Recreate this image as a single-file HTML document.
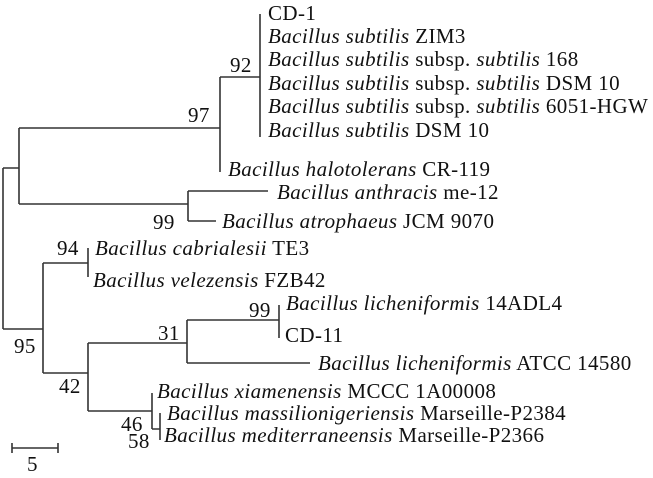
<!DOCTYPE html>
<html><head><meta charset="utf-8"><style>
html,body{margin:0;padding:0;background:#fff;width:653px;height:478px;overflow:hidden}
svg text{font-family:"Liberation Serif",serif;font-size:21px;letter-spacing:0.4px;fill:#111}
.i{font-style:italic}
</style></head><body>
<svg width="653" height="478" viewBox="0 0 653 478" xmlns="http://www.w3.org/2000/svg">
<g stroke="#333" stroke-width="1.6" fill="none">
<path d="M3,168 V329"/>
<path d="M3,168 H19 M19,128 V204"/>
<path d="M19,128 H220 M220,77 V172"/>
<path d="M220,77 H260 M260,14 V137"/>
<path d="M19,204 H188 M188,191 V221 M188,191 H268 M188,221 H216"/>
<path d="M3,329 H43 M43,263 V373"/>
<path d="M43,263 H88 M88,248 V277"/>
<path d="M43,373 H88 M88,343 V411"/>
<path d="M88,343 H187 M187,320 V363 M187,320 H279 M279,305 V338 M187,363 H310"/>
<path d="M88,411 H152 M152,393 V429 M152,429 H160 M160,413 V440"/>
<path d="M12,448 H58 M12,443 V453 M58,443 V453"/>
</g>
<text x="268" y="20">CD-1</text>
<text x="268" y="43"><tspan class="i">Bacillus subtilis</tspan> ZIM3</text>
<text x="268" y="66"><tspan class="i">Bacillus subtilis</tspan> subsp. <tspan class="i">subtilis</tspan> 168</text>
<text x="268" y="90"><tspan class="i">Bacillus subtilis</tspan> subsp. <tspan class="i">subtilis</tspan> DSM 10</text>
<text x="268" y="113"><tspan class="i">Bacillus subtilis</tspan> subsp. <tspan class="i">subtilis</tspan> 6051-HGW</text>
<text x="268" y="137"><tspan class="i">Bacillus subtilis</tspan> DSM 10</text>
<text x="228" y="176"><tspan class="i">Bacillus halotolerans</tspan> CR-119</text>
<text x="277" y="199"><tspan class="i">Bacillus anthracis</tspan> me-12</text>
<text x="222" y="228"><tspan class="i">Bacillus atrophaeus</tspan> JCM 9070</text>
<text x="95" y="255"><tspan class="i">Bacillus cabrialesii</tspan> TE3</text>
<text x="93" y="287"><tspan class="i">Bacillus velezensis</tspan> FZB42</text>
<text x="286" y="310"><tspan class="i">Bacillus licheniformis</tspan> 14ADL4</text>
<text x="285" y="342">CD-11</text>
<text x="318" y="370"><tspan class="i">Bacillus licheniformis</tspan> ATCC 14580</text>
<text x="157" y="398"><tspan class="i">Bacillus xiamenensis</tspan> MCCC 1A00008</text>
<text x="167" y="420"><tspan class="i">Bacillus massilionigeriensis</tspan> Marseille-P2384</text>
<text x="164" y="442"><tspan class="i">Bacillus mediterraneensis</tspan> Marseille-P2366</text>
<text x="230" y="72">92</text>
<text x="188" y="122">97</text>
<text x="153" y="229">99</text>
<text x="57" y="255">94</text>
<text x="14" y="353">95</text>
<text x="59" y="393">42</text>
<text x="158" y="340">31</text>
<text x="249" y="317">99</text>
<text x="121" y="431">46</text>
<text x="128" y="448">58</text>
<text x="27" y="471">5</text>
</svg>
</body></html>
